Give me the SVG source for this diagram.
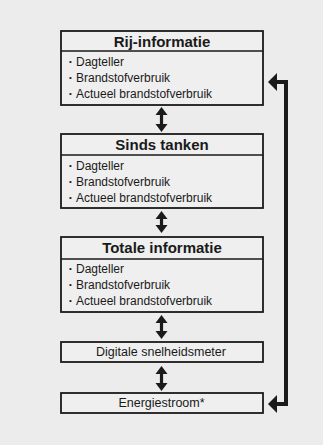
<svg xmlns="http://www.w3.org/2000/svg" width="323" height="445" viewBox="0 0 323 445">
<defs>
<style>
.box{fill:#efefef;stroke:#1a1a1a;stroke-width:1.8}
.div{stroke:#1a1a1a;stroke-width:1.5}
.title{font-family:"Liberation Sans",Arial,sans-serif;font-weight:bold;font-size:15px;fill:#1a1a1a;text-anchor:middle}
.item{font-family:"Liberation Sans",Arial,sans-serif;font-size:12px;fill:#1a1a1a}
.bul{font-size:8px}
.single{font-family:"Liberation Sans",Arial,sans-serif;font-size:12.5px;fill:#1a1a1a;text-anchor:middle}
.shaft{stroke:#1a1a1a;stroke-width:3.2;fill:none}
.loop{stroke:#1a1a1a;stroke-width:4;fill:none}
.head{fill:#1a1a1a}
</style>
</defs>
<rect width="323" height="445" fill="#ececec"/>
<g id="node-rij">
<rect class="box" x="61" y="31" width="202" height="74"/>
<line class="div" x1="61" y1="51" x2="263" y2="51"/>
<text class="title" x="162" y="47">Rij-informatie</text>
<text class="item" y="66"><tspan class="bul" x="69" dy="-2">•</tspan><tspan x="76" dy="2">Dagteller</tspan></text>
<text class="item" y="82"><tspan class="bul" x="69" dy="-2">•</tspan><tspan x="76" dy="2">Brandstofverbruik</tspan></text>
<text class="item" y="98"><tspan class="bul" x="69" dy="-2">•</tspan><tspan x="76" dy="2">Actueel brandstofverbruik</tspan></text>
</g>
<g id="node-sinds">
<rect class="box" x="61" y="134" width="202" height="74"/>
<line class="div" x1="61" y1="155" x2="263" y2="155"/>
<text class="title" x="162" y="150">Sinds tanken</text>
<text class="item" y="170"><tspan class="bul" x="69" dy="-2">•</tspan><tspan x="76" dy="2">Dagteller</tspan></text>
<text class="item" y="186"><tspan class="bul" x="69" dy="-2">•</tspan><tspan x="76" dy="2">Brandstofverbruik</tspan></text>
<text class="item" y="202"><tspan class="bul" x="69" dy="-2">•</tspan><tspan x="76" dy="2">Actueel brandstofverbruik</tspan></text>
</g>
<g id="node-totale">
<rect class="box" x="61" y="237" width="202" height="75"/>
<line class="div" x1="61" y1="259" x2="263" y2="259"/>
<text class="title" x="162" y="253">Totale informatie</text>
<text class="item" y="273"><tspan class="bul" x="69" dy="-2">•</tspan><tspan x="76" dy="2">Dagteller</tspan></text>
<text class="item" y="289"><tspan class="bul" x="69" dy="-2">•</tspan><tspan x="76" dy="2">Brandstofverbruik</tspan></text>
<text class="item" y="305"><tspan class="bul" x="69" dy="-2">•</tspan><tspan x="76" dy="2">Actueel brandstofverbruik</tspan></text>
</g>
<g id="node-digitale">
<rect class="box" x="61" y="342" width="202" height="20"/>
<text class="single" x="161" y="356">Digitale snelheidsmeter</text>
</g>
<g id="node-energie">
<rect class="box" x="61" y="393" width="202" height="20"/>
<text class="single" x="161.5" y="407">Energiestroom*</text>
</g>
<g id="connectors">
<g>
<line class="shaft" x1="161.5" y1="113" x2="161.5" y2="127"/>
<polygon class="head" points="161.5,107 167.5,115 155.5,115"/>
<polygon class="head" points="161.5,132 167.5,124 155.5,124"/>
</g>
<g>
<line class="shaft" x1="161.5" y1="217" x2="161.5" y2="228"/>
<polygon class="head" points="161.5,211 167.5,219 155.5,219"/>
<polygon class="head" points="161.5,233 167.5,225 155.5,225"/>
</g>
<g>
<line class="shaft" x1="161.5" y1="321" x2="161.5" y2="333"/>
<polygon class="head" points="161.5,315 167.5,323 155.5,323"/>
<polygon class="head" points="161.5,339 167.5,331 155.5,331"/>
</g>
<g>
<line class="shaft" x1="161.5" y1="372" x2="161.5" y2="385"/>
<polygon class="head" points="161.5,366 167.5,374 155.5,374"/>
<polygon class="head" points="161.5,391 167.5,383 155.5,383"/>
</g>
<g>
<polyline class="loop" points="276,82 286,82 286,404 276,404"/>
<polygon class="head" points="268,82 277,73 277,91"/>
<polygon class="head" points="268,404 277,395 277,413"/>
</g>
</g>
</svg>
